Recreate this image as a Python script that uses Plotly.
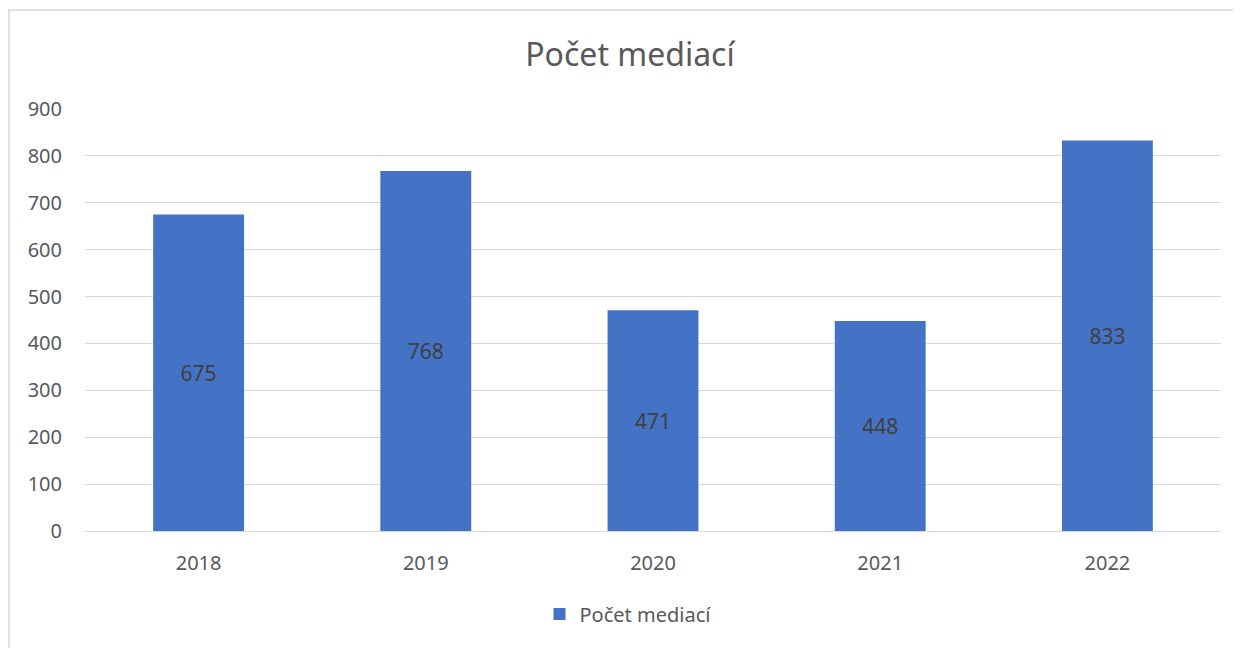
import plotly.graph_objects as go

years = ["2018", "2019", "2020", "2021", "2022"]
values = [675, 768, 471, 448, 833]
series_name = "Počet mediací"
title_text = "Počet mediací"

OFF = 8  # page body margin
W, H = 1241 - OFF, 648 - OFF
L, T = 85 - OFF, 109 - OFF
R = W - (1221 - OFF)
B = H - (531 - OFF)
pw, ph = W - L - R, H - T - B

fig = go.Figure()
fig.add_trace(go.Bar(
    x=years, y=values, name=series_name,
    marker=dict(color="#4472C4", line=dict(width=0)),
    text=[str(v) for v in values], textposition="inside",
    insidetextanchor="middle",
    textfont=dict(color="#404040", size=21, family="Noto Sans"),
    showlegend=True,
))

fig.update_layout(
    width=W, height=H,
    margin=dict(l=L, r=R, t=T, b=B, pad=0),
    paper_bgcolor="white", plot_bgcolor="white",
    bargap=0.6,
    font=dict(family="Noto Sans", color="#595959", size=20),
    title=dict(text=title_text, x=(630 - OFF) / W, xref="container", xanchor="center",
               y=1 - (55 - OFF) / H, yanchor="middle", yref="container",
               font=dict(size=32, color="#595959", family="Noto Sans")),
    xaxis=dict(showgrid=False, showline=False, ticks="", ticklabelstandoff=18,
               tickfont=dict(size=20, color="#595959")),
    yaxis=dict(range=[0, 900], dtick=100, showgrid=True, gridcolor="#D9D9D9",
               gridwidth=1.3, zeroline=True, zerolinecolor="#D9D9D9", zerolinewidth=1.3,
               ticks="", ticklabelstandoff=22, tickfont=dict(size=20, color="#595959")),
    legend=dict(orientation="h", x=(628 - OFF - L) / pw, xanchor="center",
                y=(531 - 614) / ph, yanchor="middle",
                font=dict(size=20, color="#595959"), itemwidth=30),
)

fig.add_shape(type="rect", xref="paper", yref="paper",
              x0=(9 - OFF - L) / pw, x1=(1270 - OFF - L) / pw,
              y0=(531 - 680) / ph, y1=(531 - 10) / ph,
              line=dict(color="#D9D9D9", width=1.5), fillcolor="rgba(0,0,0,0)", layer="below")

fig.write_html("out.html")
